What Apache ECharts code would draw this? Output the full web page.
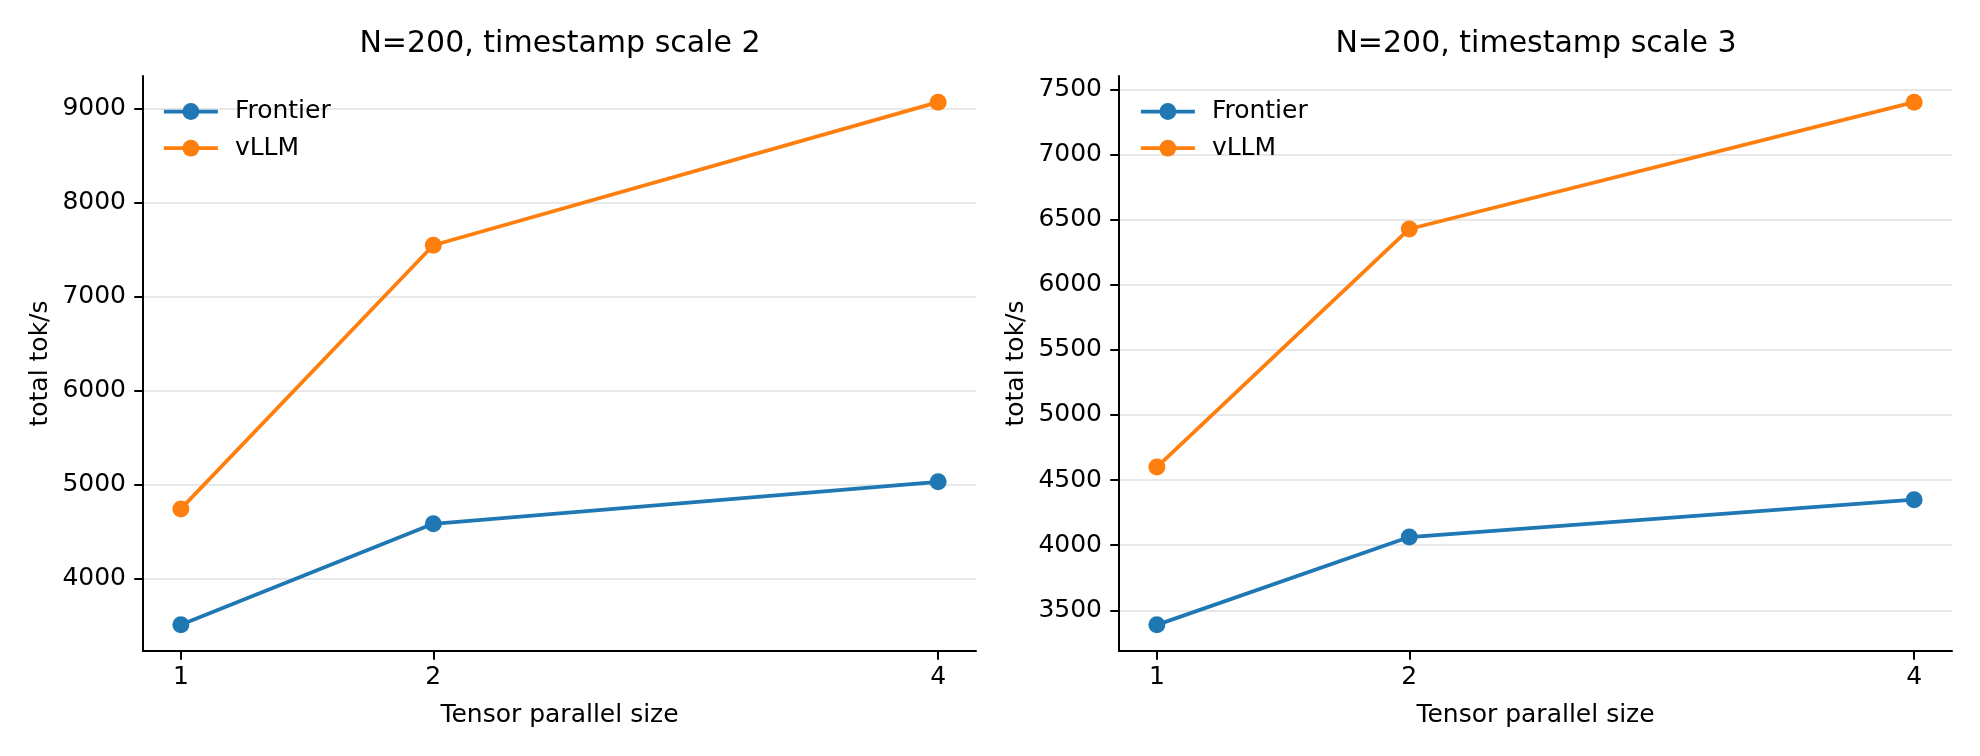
<!DOCTYPE html>
<html><head><meta charset="utf-8">
<script src="https://cdn.jsdelivr.net/npm/echarts@6/dist/echarts.min.js"></script>
<style>html,body{margin:0;padding:0;background:#fff}#c{width:1980px;height:756px}</style>
</head><body><div id="c"></div>
<script>
const tpSizes = [1, 2, 4];
const titles = ['N=200, timestamp scale 2', 'N=200, timestamp scale 3'];
const seriesNames = ['Frontier', 'vLLM'];
const frontierScale2 = [3507, 4582, 5029];
const vllmScale2 = [4741, 7546, 9069];
const frontierScale3 = [3388, 4062, 4349];
const vllmScale3 = [4600, 6428, 7402];
const yTicksScale2 = [4000, 5000, 6000, 7000, 8000, 9000];
const yTicksScale3 = [3500, 4000, 4500, 5000, 5500, 6000, 6500, 7000, 7500];
const xTicks = [1, 2, 4];
const xLabel = 'Tensor parallel size';
const yLabel = 'total tok/s';
const colors = ['#1f77b4', '#ff7f0e'];

const FONT = 'DejaVu Sans';
const FS = 25;

function padRange(vals, frac) {
  const lo = Math.min(...vals), hi = Math.max(...vals), r = hi - lo;
  return [lo - r * frac, hi + r * frac];
}

const panels = [
  { title: titles[0], data: [frontierScale2, vllmScale2], yTicks: yTicksScale2,
    grid: { left: 143, right: 1004, top: 76, bottom: 105 }, legendLeft: 157, titleX: 560 },
  { title: titles[1], data: [frontierScale3, vllmScale3], yTicks: yTicksScale3,
    grid: { left: 1119, right: 28, top: 76, bottom: 105 }, legendLeft: 1134, titleX: 1536 }
];

const axisLineStyle = { color: '#000', width: 2 };

const option = {
  backgroundColor: '#fff',
  animation: false,
  textStyle: { fontFamily: FONT },
  title: panels.map(p => ({
    text: p.title, left: p.titleX, top: 29, textAlign: 'center', padding: 0,
    textStyle: { fontFamily: FONT, fontSize: 30, fontWeight: 'normal', color: '#000' }
  })),
  legend: panels.map(p => ({
    data: seriesNames, left: p.legendLeft, top: 94, orient: 'vertical',
    itemWidth: 54, itemHeight: 21, itemGap: 11.7,
    lineStyle: { width: 3.75 },
    textStyle: { fontFamily: FONT, fontSize: FS, color: '#000', padding: [0, 0, 0, 12] }
  })),
  grid: panels.map(p => p.grid),
  xAxis: panels.map((p, i) => ({
    type: 'value', gridIndex: i, min: 0.85, max: 4.15,
    name: xLabel, nameLocation: 'middle', nameGap: 51.5,
    nameTextStyle: { fontFamily: FONT, fontSize: FS, color: '#000' },
    axisLine: { show: true, lineStyle: axisLineStyle },
    axisTick: { show: true, length: 8.75, lineStyle: axisLineStyle, customValues: xTicks },
    axisLabel: { fontFamily: FONT, fontSize: FS, color: '#000', margin: 14, customValues: xTicks,
      formatter: v => String(v) },
    splitLine: { show: false }
  })),
  yAxis: panels.map((p, i) => {
    const r = padRange(p.data.flat(), 0.05);
    return {
      type: 'value', gridIndex: i, min: r[0], max: r[1],
      name: yLabel, nameLocation: 'middle', nameGap: 90, nameRotate: 90,
      nameTextStyle: { fontFamily: FONT, fontSize: FS, color: '#000' },
      axisLine: { show: true, lineStyle: axisLineStyle },
      axisTick: { show: true, length: 8.75, lineStyle: axisLineStyle, customValues: p.yTicks },
      axisLabel: { fontFamily: FONT, fontSize: FS, color: '#000', margin: 17, customValues: p.yTicks,
        formatter: v => String(v) },
      splitLine: { show: true, lineStyle: { color: '#e8e8e8', width: 2 } }
    };
  }),
  series: panels.flatMap((p, i) => seriesNames.map((n, k) => ({
    name: n, type: 'line', xAxisIndex: i, yAxisIndex: i,
    data: tpSizes.map((x, j) => [x, p.data[k][j]]),
    color: colors[k],
    symbol: 'circle', symbolSize: 17, showSymbol: true,
    lineStyle: { width: 3.75, color: colors[k] },
    itemStyle: { color: colors[k] },
    z: 3 + k
  })))
};

const chart = echarts.init(document.getElementById('c'), null, { renderer: 'canvas' });
chart.setOption(option);
</script>
</body></html>
